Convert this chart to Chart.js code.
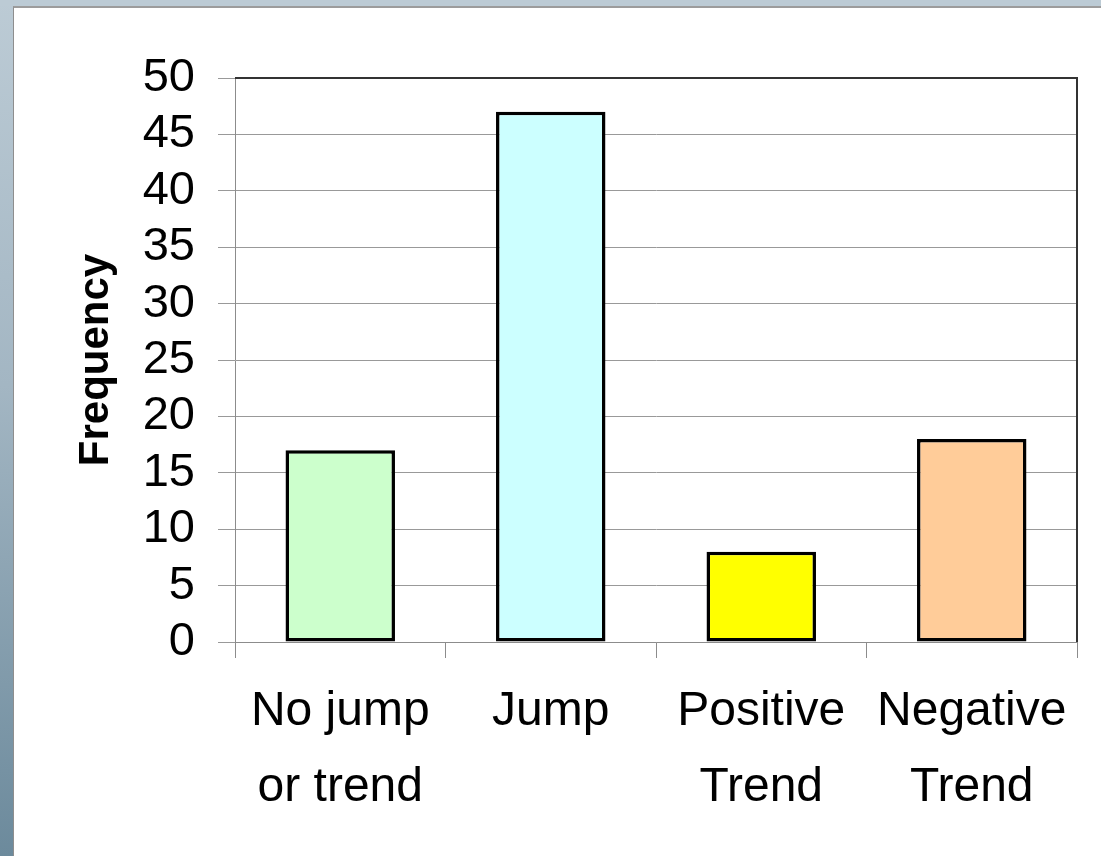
<!DOCTYPE html>
<html>
<head>
<meta charset="utf-8">
<script src="https://cdn.jsdelivr.net/npm/chart.js@4/dist/chart.umd.min.js"></script>
<style>
  html, body { margin: 0; padding: 0; }
  body {
    width: 1101px; height: 856px; position: relative; overflow: hidden;
    background: linear-gradient(to bottom, #bccbd5 0%, #a3b6c3 45%, #6c8a9c 100%);
  }
  #topband { position: absolute; left: 0; top: 0; width: 1101px; height: 6px; background: #bccbd5; }
  #panel {
    position: absolute; left: 13px; top: 6px; right: 0; bottom: 0;
    background: #ffffff;
    border-left: 1px solid #8e8e8e; border-top: 2px solid #9c9c9c;
  }
  #chart { position: absolute; left: 0; top: 0; }
</style>
</head>
<body>
<div id="topband"></div>
<div id="panel"></div>
<canvas id="chart" width="1101" height="856"></canvas>
<script>
// Counts of series by detected behaviour
const categories = [["No jump", "or trend"], "Jump", ["Positive", "Trend"], ["Negative", "Trend"]];
const frequency = [17, 47, 8, 18];
const barColors = ["#ccffcc", "#ccffff", "#ffff00", "#ffcc99"];
const yTicks = { min: 0, max: 50, step: 5 };

const FONT = "'Liberation Sans', Arial, Helvetica, sans-serif";

// Dark frame along the top and right of the plot area
const plotFrame = {
  id: "plotFrame",
  afterDraw(chart) {
    const { ctx, chartArea: a } = chart;
    ctx.save();
    ctx.strokeStyle = "#333333";
    ctx.lineWidth = 2;
    ctx.beginPath();
    ctx.moveTo(a.left, a.top);
    ctx.lineTo(a.right, a.top);
    ctx.lineTo(a.right, a.bottom);
    ctx.stroke();
    ctx.restore();
  }
};

new Chart(document.getElementById("chart"), {
  type: "bar",
  data: {
    labels: categories,
    datasets: [{
      data: frequency,
      backgroundColor: barColors,
      borderColor: "#000000",
      borderWidth: 3.5,
      borderSkipped: false,
      barPercentage: 0.52,
      categoryPercentage: 1.0
    }]
  },
  options: {
    responsive: false,
    animation: false,
    events: [],
    layout: { padding: { left: 0, top: 78, right: 24, bottom: 0 } },
    plugins: { legend: { display: false }, tooltip: { enabled: false } },
    scales: {
      x: {
        offset: true,
        grid: {
          offset: true,
          drawOnChartArea: false,
          drawTicks: true,
          tickLength: 16,
          color: "#8c8c8c",
          lineWidth: 1
        },
        border: { display: true, color: "#8c8c8c", width: 1 },
        ticks: {
          color: "#000000",
          font: { family: FONT, size: 48, lineHeight: 1.58 },
          padding: 16,
          maxRotation: 0,
          autoSkip: false
        },
        afterFit(scale) { scale.height = 214; }
      },
      y: {
        min: yTicks.min,
        max: yTicks.max,
        grid: {
          color: "#999999",
          lineWidth: 1,
          drawTicks: true,
          tickLength: 17
        },
        border: { display: true, color: "#8c8c8c", width: 1 },
        ticks: {
          stepSize: yTicks.step,
          autoSkip: false,
          color: "#000000",
          font: { family: FONT, size: 47, lineHeight: 1.0 },
          padding: 23
        },
        title: {
          display: true,
          text: "Frequency",
          color: "#000000",
          font: { family: FONT, size: 42, weight: "bold" },
          padding: { top: 71, bottom: 0 }
        },
        afterFit(scale) { scale.width = 235; }
      }
    }
  },
  plugins: [plotFrame]
});
</script>
</body>
</html>
